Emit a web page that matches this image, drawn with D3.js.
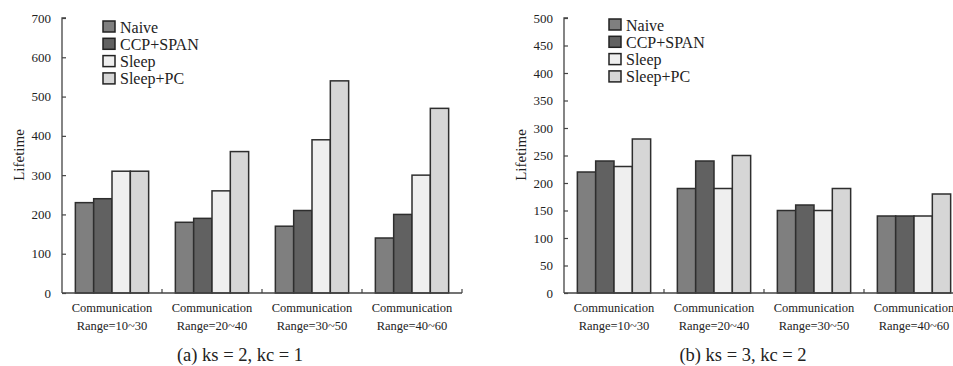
<!DOCTYPE html>
<html>
<head>
<meta charset="utf-8">
<script src="https://cdn.jsdelivr.net/npm/d3@7/dist/d3.min.js"></script>
</head>
<body style="margin:0;background:#fff">
<svg id="chart" width="953" height="366" style="display:block"></svg>
<script>
const categories = ["Communication\nRange=10~30", "Communication\nRange=20~40", "Communication\nRange=30~50", "Communication\nRange=40~60"];
const seriesNames = ["Naive", "CCP+SPAN", "Sleep", "Sleep+PC"];
const seriesColors = ["#7f7f7f", "#616161", "#efefef", "#d6d6d6"];

// Panel (a): ks = 2, kc = 1
const aNaive   = [230, 180, 170, 140];
const aCCPSPAN = [240, 190, 210, 200];
const aSleep   = [310, 260, 390, 300];
const aSleepPC = [310, 360, 540, 470];
const aTicks   = [0, 100, 200, 300, 400, 500, 600, 700];

// Panel (b): ks = 3, kc = 2
const bNaive   = [220, 190, 150, 140];
const bCCPSPAN = [240, 240, 160, 140];
const bSleep   = [230, 190, 150, 140];
const bSleepPC = [280, 250, 190, 180];
const bTicks   = [0, 50, 100, 150, 200, 250, 300, 350, 400, 450, 500];

const panels = [
  { series: [aNaive, aCCPSPAN, aSleep, aSleepPC], ticks: aTicks, max: 700,
    x0: 62, x1: 462, caption: "(a) ks = 2, kc = 1", capX: 240, labelX: 19,
    legX: 103, legY: 21 },
  { series: [bNaive, bCCPSPAN, bSleep, bSleepPC], ticks: bTicks, max: 500,
    x0: 564, x1: 964, caption: "(b) ks = 3, kc = 2", capX: 743, labelX: 521,
    legX: 609, legY: 19 }
];

const svg = d3.select("#chart");
const yTop = 18, yBot = 293;
const axisColor = "#444";
const txtColor = "#222";

function txt(sel, size) {
  return sel.append("text").style("font", `${size}px 'Liberation Serif', Tinos, 'Noto Serif CJK SC', monospace`)
    .attr("fill", txtColor);
}

panels.forEach(p => {
  const g = svg.append("g");
  const y = d3.scaleLinear().domain([0, p.max]).range([yBot, yTop]);
  const x = d3.scaleBand().domain(categories).range([p.x0, p.x1])
    .paddingInner(0.267).paddingOuter(0.1335);
  const xs = d3.scaleBand().domain(seriesNames).range([0, x.bandwidth()]);

  seriesNames.forEach((name, si) => {
    g.selectAll(null).data(p.series[si]).enter().append("rect")
      .attr("x", (d, i) => x(categories[i]) + xs(name))
      .attr("y", d => y(d))
      .attr("width", xs.bandwidth())
      .attr("height", d => yBot - y(d))
      .attr("fill", seriesColors[si])
      .attr("stroke", "#2e2e2e")
      .attr("stroke-width", 1.5);
  });

  const yAxis = d3.axisRight(y).tickValues(p.ticks).tickSize(4).tickFormat("");
  const ya = g.append("g").attr("transform", `translate(${p.x0},0)`).call(yAxis);
  ya.select(".domain").attr("stroke", axisColor).attr("stroke-width", 1.3).attr("d", `M4,${yTop}H0V${yBot}`);
  ya.selectAll(".tick line").attr("stroke", axisColor).attr("stroke-width", 1.2);
  p.ticks.forEach(t => {
    txt(g, 13).attr("x", p.x0 - 11).attr("y", y(t)).attr("dy", "0.35em")
      .attr("text-anchor", "end").text(t);
  });

  const bounds = d3.range(categories.length + 1).map(i => p.x0 + i * x.step());
  g.append("line").attr("x1", p.x0).attr("x2", p.x1).attr("y1", yBot).attr("y2", yBot)
    .attr("stroke", axisColor).attr("stroke-width", 1.3);
  g.selectAll(null).data(bounds.slice(1)).enter().append("line")
    .attr("x1", d => d).attr("x2", d => d).attr("y1", yBot).attr("y2", yBot - 4)
    .attr("stroke", axisColor).attr("stroke-width", 1.2);

  categories.forEach(c => {
    const cx = x(c) + x.bandwidth() / 2;
    c.split("\n").forEach((ln, li) => {
      txt(g, 12.5).attr("x", cx).attr("y", 312 + li * 17.5)
        .attr("text-anchor", "middle").text(ln);
    });
  });

  txt(g, 15).attr("transform", `translate(${p.labelX + 5},155) rotate(-90)`)
    .attr("text-anchor", "middle").text("Lifetime");

  seriesNames.forEach((name, si) => {
    const ly = p.legY + si * 17.3;
    g.append("rect").attr("x", p.legX).attr("y", ly).attr("width", 12).attr("height", 11)
      .attr("fill", seriesColors[si]).attr("stroke", "#222").attr("stroke-width", 1.5);
    txt(g, 16).attr("x", p.legX + 17).attr("y", ly + 11.5).text(name);
  });

  txt(g, 18.5).attr("x", p.capX).attr("y", 361)
    .attr("text-anchor", "middle").text(p.caption);
});
</script>
</body>
</html>
